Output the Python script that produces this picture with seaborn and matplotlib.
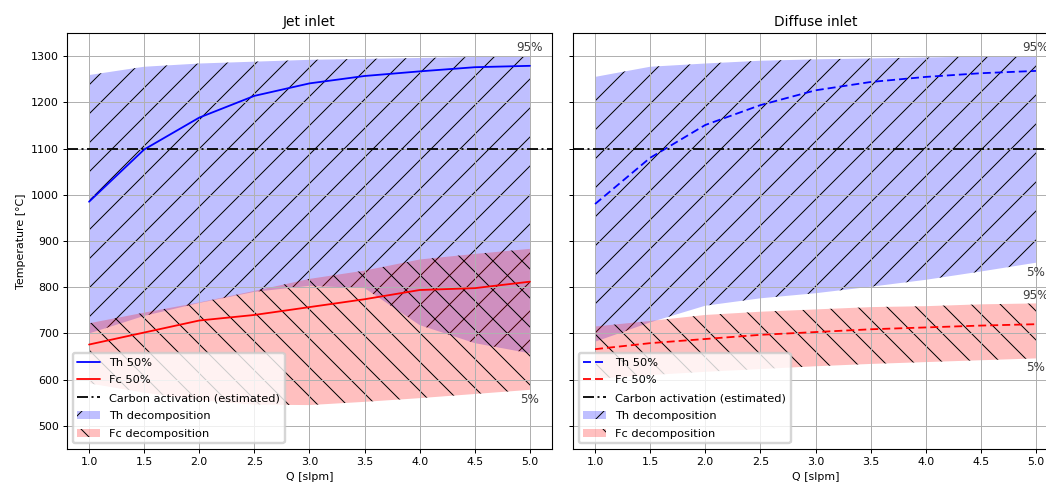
import matplotlib
matplotlib.use("Agg")
import matplotlib.pyplot as plt
import seaborn as sns

# Flow rates [slpm]
Q = [1.0, 1.5, 2.0, 2.5, 3.0, 3.5, 4.0, 4.5, 5.0]

# Jet inlet: median and 5 % / 95 % decomposition temperatures [°C]
jet_th_50 = [985, 1098, 1167, 1214, 1241, 1257, 1267, 1276, 1279]
jet_th_95 = [1259, 1277, 1284, 1288, 1292, 1294, 1296, 1298, 1300]
jet_th_5 = [700, 738, 766, 790, 803, 798, 718, 679, 657]
jet_fc_50 = [676, 702, 728, 740, 757, 774, 794, 798, 812]
jet_fc_95 = [722, 745, 767, 792, 818, 836, 860, 872, 883]
jet_fc_5 = [592, 572, 556, 546, 545, 552, 560, 569, 578]

# Diffuse inlet
dif_th_50 = [980, 1080, 1151, 1194, 1226, 1244, 1255, 1263, 1268]
dif_th_95 = [1255, 1277, 1284, 1290, 1293, 1295, 1297, 1299, 1300]
dif_th_5 = [682, 724, 760, 776, 787, 801, 816, 834, 853]
dif_fc_50 = [666, 679, 688, 697, 703, 709, 713, 717, 720]
dif_fc_95 = [715, 727, 740, 747, 752, 757, 759, 763, 765]
dif_fc_5 = [602, 610, 617, 623, 629, 634, 638, 642, 646]

carbon_activation = 1100
y_limits = (450, 1350)
titles = ["Jet inlet", "Diffuse inlet"]

DPI = 174
W, H = 1046, 485
PX = 72.0 / DPI  # one pixel in points

sns.set_style("ticks")
plt.rcParams.update({
    "font.family": ["DejaVu Sans"],
    "font.size": 11.4 * PX,
    "axes.titlesize": 13.8 * PX,
    "axes.labelsize": 11.0 * PX,
    "xtick.labelsize": 11.0 * PX,
    "ytick.labelsize": 11.0 * PX,
    "legend.fontsize": 11.4 * PX,
    "axes.edgecolor": "black",
    "axes.linewidth": 1.1 * PX,
    "axes.axisbelow": "line",
    "xtick.major.size": 4 * PX,
    "ytick.major.size": 4 * PX,
    "xtick.major.width": 1.0 * PX,
    "ytick.major.width": 1.0 * PX,
    "xtick.major.pad": 4 * PX,
    "ytick.major.pad": 4 * PX,
    "xtick.color": "black",
    "ytick.color": "black",
    "text.color": "black",
    "axes.labelcolor": "black",
    "hatch.color": "black",
    "hatch.linewidth": 1.0 * PX,
    "lines.scale_dashes": False,
    "legend.handlelength": 2.0,
    "legend.labelspacing": 0.68,
    "axes.titlepad": 7 * PX,
    "axes.labelpad": 5 * PX,
})

fig = plt.figure(figsize=(W / DPI, H / DPI), dpi=DPI)
ax_w, ax_h = 485 / W, 416 / H
bottom = (H - 449) / H
ax1 = fig.add_axes([67 / W, bottom, ax_w, ax_h])
ax2 = fig.add_axes([573 / W, bottom, ax_w, ax_h], sharey=ax1)

LW = 1.8 * PX
dash = (0, (8 * PX, 4 * PX))
dashdot = (0, (11 * PX, 3.5 * PX, 2 * PX, 3.5 * PX))
th_face = (0.0, 0.0, 1.0, 0.25)
fc_face = (1.0, 0.0, 0.0, 0.25)

panels = [
    (ax1, "-", jet_th_50, jet_th_5, jet_th_95, jet_fc_50, jet_fc_5, jet_fc_95),
    (ax2, dash, dif_th_50, dif_th_5, dif_th_95, dif_fc_50, dif_fc_5, dif_fc_95),
]

for i, (ax, ls, th50, th5, th95, fc50, fc5, fc95) in enumerate(panels):
    h_th = sns.lineplot(x=Q, y=th50, ax=ax, color="blue", lw=LW, linestyle=ls,
                        label="Th 50%").lines[-1]
    h_fc = sns.lineplot(x=Q, y=fc50, ax=ax, color="red", lw=LW, linestyle=ls,
                        label="Fc 50%").lines[-1]
    h_ca = ax.axhline(carbon_activation, color="black", lw=LW, linestyle=dashdot,
                      label="Carbon activation (estimated)")
    f_th = ax.fill_between(Q, th5, th95, facecolor=th_face, edgecolor="black",
                           hatch="//", lw=0, label="Th decomposition")
    f_fc = ax.fill_between(Q, fc5, fc95, facecolor=fc_face, edgecolor="black",
                           hatch="\\\\", lw=0, label="Fc decomposition")

    ax.legend(handles=[h_th, h_fc, h_ca, f_th, f_fc], loc="lower left",
              framealpha=0.8, edgecolor="0.8", fancybox=True)
    ax.set_title(titles[i])
    ax.set_xlabel("Q [slpm]")
    ax.set_xlim(0.8, 5.2)
    ax.set_ylim(*y_limits)
    ax.set_xticks([1.0, 1.5, 2.0, 2.5, 3.0, 3.5, 4.0, 4.5, 5.0])
    ax.grid(True, color="#b0b0b0", lw=1.0 * PX)
    for s in ax.spines.values():
        s.set_visible(True)

    # percentile tags at the right end of the bands
    tag = dict(textcoords="offset points", ha="center", color="0.25",
               fontsize=12.0 * PX)
    ax.annotate("95%", (Q[-1], th95[-1]), xytext=(0, 2 * PX), va="bottom", **tag)
    if i == 0:
        ax.annotate("5%", (Q[-1], fc5[-1]), xytext=(0, -3 * PX), va="top", **tag)
    else:
        ax.annotate("5%", (Q[-1], th5[-1]), xytext=(0, -3 * PX), va="top", **tag)
        ax.annotate("95%", (Q[-1], fc95[-1]), xytext=(0, 1 * PX), va="bottom", **tag)
        ax.annotate("5%", (Q[-1], fc5[-1]), xytext=(0, -3 * PX), va="top", **tag)

ax1.set_ylabel("Temperature [°C]")
ax1.set_yticks([500, 600, 700, 800, 900, 1000, 1100, 1200, 1300])
ax2.tick_params(labelleft=False)
ax2.set_ylabel("")

fig.savefig("out.png", dpi=DPI)
